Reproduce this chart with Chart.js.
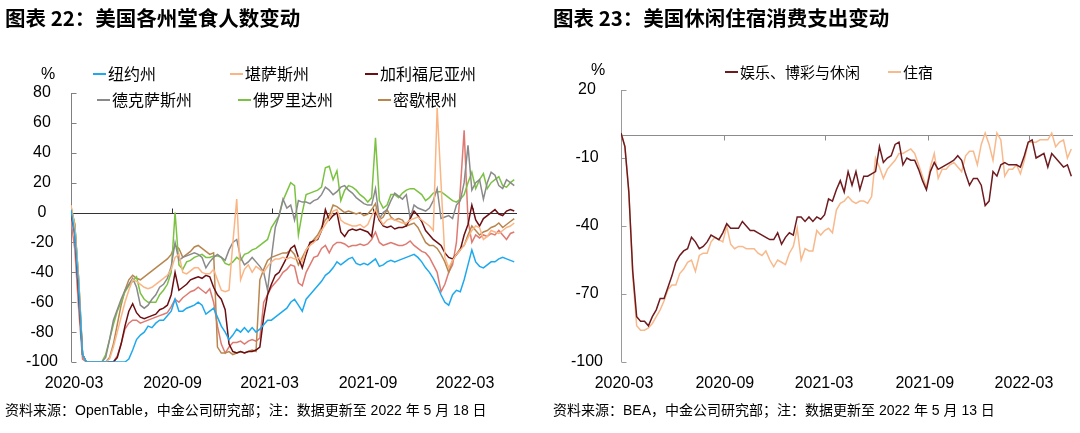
<!DOCTYPE html>
<html>
<head>
<meta charset="utf-8">
<script src="https://cdn.jsdelivr.net/npm/chart.js@4.4.0/dist/chart.umd.min.js"></script>
<style>
  body { margin: 0; background: #fff; }
  #wrap { position: relative; width: 1080px; height: 433px; overflow: hidden; }
  canvas { position: absolute; top: 0; }
  .t { position: absolute; white-space: nowrap; color: #000; }
  .title { font: bold 20.5px "Noto Sans CJK SC"; line-height: 20px; top: 7px; }
  .foot { font: 14px "Liberation Sans", "Noto Sans CJK SC"; line-height: 14px; top: 403px; }
  .unit { font: 16px "Liberation Sans"; line-height: 16px; }
  .dash { position: absolute; left: 0; width: 13px; height: 1.6px; }
</style>
</head>
<body>
<div id="wrap">
  <canvas id="c1" width="540" height="433" style="left:0"></canvas>
  <canvas id="c2" width="540" height="433" style="left:540px"></canvas>
  <div class="t title" style="left:5px">图表 22：美国各州堂食人数变动</div>
  <div class="t title" style="left:553px">图表 23：美国休闲住宿消费支出变动</div>
  <div class="t unit" style="left:41px;top:66px">%</div>
  <div class="t unit" style="left:591px;top:62px">%</div>
  <div class="t foot" style="left:5px">资料来源：OpenTable，中金公司研究部；注：数据更新至 2022 年 5 月 18 日</div>
  <div class="t foot" style="left:553px">资料来源：BEA，中金公司研究部；注：数据更新至 2022 年 5 月 13 日</div>
</div>
<script>
// x positions: days since 2020-03-01, one value per week
const tickDays = [0, 184, 365, 549, 730];
const tickLabels = ['2020-03', '2020-09', '2021-03', '2021-09', '2022-03'];

// 图表 22 — weekly samples of the daily series
const stateNames = ['纽约州', '堪萨斯州', '加利福尼亚州', '德克萨斯州', '佛罗里达州', '密歇根州', '其他'];
const stateColors = ['#1ea9ee', '#fbb584', '#6b0f12', '#8a8a8a', '#7cc242', '#b8864e', '#de7a72'];

const newYork = [
  2,-15,-50,-95,-100,-100,-100,-100,-100,-100,
  -100,-100,-100,-100,-100,-98,-92,-85,-82,-80,
  -76,-77,-74,-72,-72,-69,-66,-58,-66,-66,
  -64,-63,-62,-60,-62,-68,-66,-64,-70,-76,
  -80,-85,-82,-78,-80,-77,-80,-77,-80,-78,
  -75,-72,-72,-70,-68,-66,-64,-60,-58,-62,
  -66,-58,-55,-52,-49,-46,-42,-40,-37,-33,
  -35,-33,-31,-30,-34,-35,-34,-35,-33,-31,
  -36,-35,-33,-32,-33,-32,-31,-30,-29,-28,
  -30,-33,-37,-40,-44,-49,-55,-60,-62,-55,
  -52,-53,-45,-35,-25,-33,-36,-37,-35,-33,
  -33,-31,-30,-31,-32,-33
];
const kansas = [
  5,-10,-45,-95,-100,-100,-100,-100,-100,-100,
  -98,-90,-80,-70,-60,-52,-45,-46,-48,-50,
  -51,-50,-48,-46,-44,-42,-38,-30,-28,-40,
  -41,-39,-37,-37,-40,-41,-41,-38,-45,-52,
  -53,-52,-20,9,-45,-38,-35,-40,-36,-38,
  -40,-36,-33,-31,-31,-30,-31,-30,-31,-30,
  -33,-25,-22,-20,-17,-12,-8,-4,1,2,
  -5,-7,-8,-9,-9,-8,-10,-8,-2,2,
  -4,-8,-5,-4,-5,-6,-7,-7,-5,-4,
  -3,-5,-7,-9,-12,70,20,-30,-37,-32,
  -28,-25,-22,-17,-12,-9,-10,-18,-16,-12,
  -13,-14,-12,-10,-9,-7
];
const california = [
  0,-15,-55,-95,-100,-100,-100,-100,-100,-100,
  -100,-100,-97,-88,-76,-66,-61,-67,-70,-71,
  -70,-69,-68,-65,-64,-62,-55,-40,-52,-50,
  -48,-45,-44,-43,-44,-42,-43,-50,-55,-58,
  -65,-88,-93,-94,-93,-94,-93,-93,-92,-90,
  -70,-55,-48,-42,-40,-35,-30,-24,-22,-30,
  -37,-28,-20,-19,-18,-12,2,-5,-2,0,
  -13,-16,-12,-11,-12,-11,-12,-13,-16,1,
  -5,-9,-10,-9,-11,-10,-10,-9,-4,1,
  -2,-6,-12,-15,-18,-20,-22,-27,-30,-31,
  -28,-25,-15,-8,5,-5,-9,-4,-2,0,
  2,-1,-2,1,2,1
];
const texas = [
  2,-10,-45,-95,-100,-100,-100,-100,-100,-97,
  -85,-72,-65,-58,-52,-48,-44,-50,-62,-64,
  -62,-58,-55,-50,-48,-44,-36,-20,-32,-30,
  -29,-28,-27,-28,-30,-37,-33,-30,-28,-30,
  -32,-25,-20,-18,-30,-35,-33,-30,-33,-36,
  -40,-52,-30,-10,-2,9,3,5,-5,8,
  7,7,6,8,9,12,17,15,12,14,
  17,18,15,13,10,8,6,5,5,16,
  -4,0,2,8,13,11,9,12,-4,5,
  3,2,1,3,8,16,-4,-3,-2,-4,
  5,8,20,45,15,20,22,9,20,27,
  25,18,16,22,20,18
];
const florida = [
  3,-8,-45,-95,-100,-100,-100,-100,-100,-95,
  -85,-75,-66,-60,-53,-49,-46,-43,-54,-58,
  -60,-60,-60,-55,-52,-48,-40,0,-35,-38,
  -33,-32,-30,-29,-28,-30,-30,-29,-29,-30,
  -34,-35,-33,-30,-32,-28,-27,-25,-24,-22,
  -20,-18,-10,-6,-2,8,14,20,18,-15,
  0,12,13,14,15,17,30,31,22,28,
  8,15,18,17,15,12,10,7,10,50,
  8,3,5,12,12,10,13,15,16,16,
  14,12,8,10,13,14,14,12,10,8,
  7,9,12,20,27,16,22,26,16,20,
  22,24,18,17,20,22
];
const michigan = [
  4,-8,-50,-95,-100,-100,-100,-100,-100,-100,
  -97,-88,-75,-62,-52,-45,-42,-44,-45,-43,
  -41,-39,-37,-35,-33,-31,-28,-22,-24,-30,
  -28,-26,-23,-22,-24,-26,-28,-27,-90,-94,
  -94,-93,-95,-94,-93,-94,-93,-92,-93,-45,
  -38,-32,-30,-29,-28,-27,-27,-25,-28,-35,
  -30,-25,-21,-18,-15,-10,-5,-2,5,4,
  2,0,1,0,-1,0,-2,-1,2,6,
  -5,-3,2,-3,-5,-4,-5,-9,-8,-7,
  -10,-15,-20,-22,-22,-24,-28,-33,-40,-32,
  -28,-24,-22,-15,-9,-12,-15,-13,-12,-10,
  -9,-7,-10,-8,-6,-4
];
const otherState = [
  -5,-25,-65,-98,-100,-100,-100,-100,-100,-100,
  -100,-100,-96,-88,-78,-74,-72,-72,-74,-73,
  -72,-71,-70,-69,-68,-67,-63,-58,-60,-57,
  -55,-53,-52,-50,-52,-54,-51,-60,-76,-88,
  -94,-90,-87,-87,-86,-88,-86,-85,-86,-84,
  -60,-55,-50,-47,-44,-40,-38,-35,-36,-47,
  -49,-40,-35,-30,-29,-24,-22,-27,-22,-20,
  -20,-21,-23,-22,-22,-21,-22,-21,-18,-13,
  -20,-22,-21,-20,-21,-22,-22,-21,-19,-22,
  -24,-26,-27,-30,-35,-40,-53,-48,-40,-35,
  -20,15,55,-5,-20,-15,-17,-15,-16,-14,
  -15,-12,-15,-18,-14,-13
];
const stateSeries = [newYork, kansas, california, texas, florida, michigan, otherState];

// 图表 23 — weekly
const spendNames = ['娱乐、博彩与休闲', '住宿'];
const spendColors = ['#6e1b1f', '#f8b98c'];
const recreation = [
  1,-5,-25,-60,-80,-82,-82,-84,-80,-77,
  -72,-72,-67,-62,-56,-53,-51,-50,-45,-47,
  -50,-49,-47,-44,-45,-46,-43,-39,-41,-41,
  -41,-38,-40,-42,-42,-43,-44,-45,-46,-46,
  -43,-48,-45,-43,-44,-36,-36,-38,-36,-38,
  -36,-37,-35,-28,-29,-24,-20,-25,-16,-22,
  -16,-24,-18,-18,-17,-16,-5,-12,-10,-9,
  -4,-3,-13,-10,-11,-11,-15,-20,-24,-16,
  -12,-15,-14,-13,-12,-11,-9,-11,-17,-22,
  -19,-19,-22,-31,-29,-16,-18,-13,-12,-13,
  -13,-13,-14,-9,-3,-2,-10,-9,-8,-14,
  -8,-10,-12,-14,-13,-18
];
const lodging = [
  1,-5,-25,-62,-84,-86,-86,-85,-83,-80,
  -77,-73,-68,-66,-66,-61,-59,-56,-55,-60,
  -53,-52,-52,-47,-45,-46,-47,-40,-48,-50,
  -49,-49,-50,-50,-50,-52,-53,-51,-55,-58,
  -55,-56,-57,-52,-49,-41,-55,-50,-51,-51,
  -42,-44,-42,-41,-43,-33,-30,-29,-27,-29,
  -30,-29,-29,-30,-27,-10,-14,-19,-15,-13,
  -11,-8,-8,-7,-6,-8,-13,-18,-23,-14,
  -8,-19,-15,-15,-13,-12,-14,-16,-9,-7,
  -7,-13,-4,1,-4,-11,1,-2,-18,-15,
  -15,-13,-17,-11,-3,-3,-3,-2,-2,-2,
  1,-5,-3,-2,-10,-6
];
const spendSeries = [recreation, lodging];

function weekly(vals) {
  return vals.map((v, i) => ({ x: i * 7, y: v }));
}

const axisMarks = {
  id: 'axisMarks',
  beforeDatasetsDraw(chart, args, o) {
    const { ctx, chartArea: a } = chart;
    const x = chart.scales.x, y = chart.scales.y;
    ctx.save();
    ctx.lineWidth = 1;
    ctx.strokeStyle = o.axisColor;
    const ax = Math.round(a.left) + 0.5;
    ctx.beginPath();
    ctx.moveTo(ax, a.top);
    ctx.lineTo(ax, a.bottom);
    y.ticks.forEach(t => {
      const py = Math.round(y.getPixelForValue(t.value)) + 0.5;
      ctx.moveTo(ax, py);
      ctx.lineTo(ax + 5, py);
    });
    ctx.stroke();
    const zy = Math.round(y.getPixelForValue(0)) + 0.5;
    ctx.strokeStyle = o.zeroColor;
    ctx.beginPath();
    ctx.moveTo(a.left, zy);
    ctx.lineTo(a.right, zy);
    tickDays.forEach(d => {
      const px = Math.round(x.getPixelForValue(d)) + 0.5;
      ctx.moveTo(px, zy);
      ctx.lineTo(px, zy + o.tickDir * 5);
    });
    ctx.stroke();
    ctx.restore();
  }
};

const tickFont = { family: 'Liberation Sans', size: 16 };

function makeChart(id, names, colors, series, opt) {
  new Chart(document.getElementById(id), {
    type: 'line',
    data: {
      datasets: series.map((s, i) => ({
        label: names[i],
        data: weekly(s),
        borderColor: colors[i],
        borderWidth: 1.5,
        pointRadius: 0,
        tension: 0,
        fill: false
      }))
    },
    options: {
      responsive: false,
      animation: false,
      layout: { padding: opt.padding },
      scales: {
        x: { type: 'linear', min: 0, max: opt.xMax, display: false },
        xl: {
          type: 'linear', position: 'bottom', min: opt.labelMin, max: opt.labelMax,
          afterBuildTicks: s => { s.ticks = tickDays.map(v => ({ value: v })); },
          afterFit: s => { s.height = 30; },
          grid: { display: false, drawTicks: false },
          border: { display: false },
          ticks: {
            autoSkip: false, maxRotation: 0, padding: 12, color: '#000', font: tickFont,
            callback: (v, i) => tickLabels[i]
          }
        },
        y: {
          min: opt.yMin, max: opt.yMax,
          afterFit: s => { s.width = opt.yWidth; },
          grid: { display: false, drawTicks: false },
          border: { display: false },
          ticks: { stepSize: opt.yStep, crossAlign: 'center', padding: opt.yPad, color: '#000', font: tickFont }
        }
      },
      plugins: {
        legend: { display: false },
        tooltip: { enabled: false },
        axisMarks: opt.marks
      }
    },
    plugins: [axisMarks]
  });
}

makeChart('c1', stateNames, stateColors, stateSeries, {
  padding: { top: 93, right: 23, bottom: 41, left: 0 },
  xMax: 810, labelMin: -5.6, labelMax: 827,
  yMin: -100, yMax: 80, yStep: 20, yWidth: 71, yPad: 13,
  marks: { axisColor: '#808080', zeroColor: '#333333', tickDir: -1 }
});
makeChart('c2', spendNames, spendColors, spendSeries, {
  padding: { top: 90, right: 7, bottom: 41, left: 0 },
  xMax: 808, labelMin: -5.5, labelMax: 819.5,
  yMin: -100, yMax: 20, yStep: 30, yWidth: 81, yPad: 18,
  marks: { axisColor: '#9a9a9a', zeroColor: '#8c8c8c', tickDir: 1 }
});

// legends (HTML text built from the series names)
const wrap = document.getElementById('wrap');
function legendItem(name, color, left, cy, size) {
  const d = document.createElement('div');
  d.className = 't';
  d.style.cssText = `left:${left}px;top:${cy - size * 0.55}px;height:${size}px;font:${size}px "Noto Sans CJK SC";line-height:${size}px;padding-left:15px;`;
  const dash = document.createElement('div');
  dash.className = 'dash';
  dash.style.background = color;
  dash.style.top = (size * 0.55 - 0.8) + 'px';
  d.appendChild(dash);
  d.appendChild(document.createTextNode(name));
  wrap.appendChild(d);
}
const leftLegendPos = [[93, 74], [230, 74], [365, 74], [97, 100], [238, 100], [378, 100]];
leftLegendPos.forEach((p, i) => legendItem(stateNames[i], stateColors[i], p[0], p[1], 16));
const rightLegendPos = [[725, 72], [888, 72]];
rightLegendPos.forEach((p, i) => legendItem(spendNames[i], spendColors[i], p[0], p[1], 15));
</script>
</body>
</html>
